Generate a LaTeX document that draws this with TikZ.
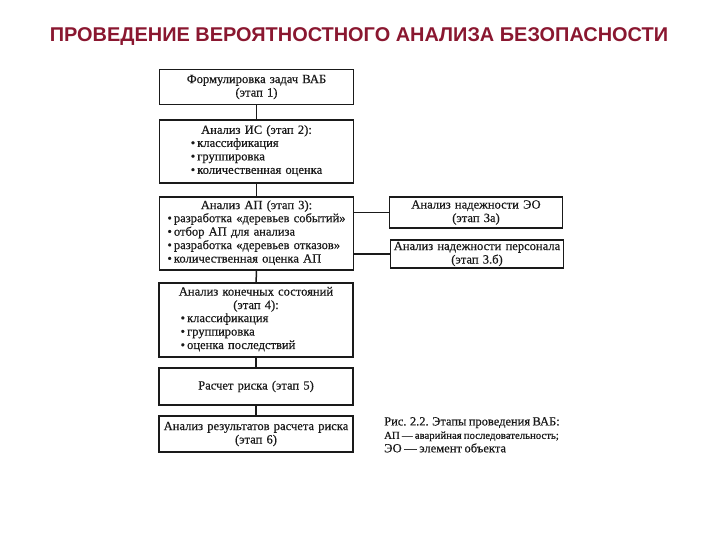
\documentclass[tikz,border=0pt]{standalone}
\usepackage{fontspec}
\setmainfont[FakeBold=0.6,WordSpace=0.8]{Liberation Serif}
\newfontfamily\headfont{Liberation Sans}
\usepackage{xcolor}
\definecolor{cHead}{HTML}{8A1730}
\definecolor{ink}{HTML}{1A1A1A}
\usetikzlibrary{positioning}

\begin{document}
\begin{tikzpicture}[x=1bp,y=-1bp,
  font=\fontsize{12.6}{13.5}\selectfont,
  every node/.style={align=center,text=ink},
  N/.style={draw=ink,line width=1.5bp,text width=192bp,inner sep=1bp},
  side/.style={N,text width=171bp},
  e/.style={draw=ink,line width=1.5bp},
  figcap/.style={align=left,anchor=north west,inner sep=0pt}]

\useasboundingbox (0,0) rectangle (720,540);

% --- title ---
\node[font=\headfont\bfseries\fontsize{20}{22}\selectfont,text=cHead] (ttl) at (359,37)
  {ПРОВЕДЕНИЕ ВЕРОЯТНОСТНОГО АНАЛИЗА БЕЗОПАСНОСТИ};

% --- main column ---
\node[N,minimum height=35bp] (b1) at (256.5,87)
  {Формулировка задач ВАБ\\(этап 1)};
\node[N,minimum height=63bp] (b2) at (256.5,151.5)
  {Анализ ИС (этап 2):\\
   \begin{tabular}{@{}l@{}}•\,классификация\\•\,группировка\\•\,количественная оценка\end{tabular}};
\node[N,minimum height=73bp] (b3) at (256.5,233.5)
  {Анализ АП (этап 3):\\
   \begin{tabular}{@{}l@{}}•\,разработка «деревьев событий»\\•\,отбор АП для анализа\\
   •\,разработка «деревьев отказов»\\•\,количественная оценка АП\end{tabular}};
\node[N,minimum height=74bp] (b4) at (256,320)
  {Анализ конечных состояний\\(этап 4):\\
   \begin{tabular}{@{}l@{}}•\,классификация\\•\,группировка\\•\,оценка последствий\end{tabular}\hspace*{36bp}};
\node[N,minimum height=37bp] (b5) at (256,386.5) {Расчет риска (этап 5)};
\node[N,minimum height=36bp] (b6) at (256,434)
  {Анализ результатов расчета риска\\(этап 6)};

% --- side boxes ---
\node[side,minimum height=31bp] (b3a) at (476,212.5)
  {Анализ надежности ЭО\\(этап 3а)};
\node[side,minimum height=28bp] (b3b) at (477,254)
  {Анализ надежности персонала\\(этап 3.б)};

% --- caption ---
\node[figcap] (cpt) at (384,417)
  {\fontsize{12.5}{12}\selectfont Рис. 2.2. Этапы проведения ВАБ:\\
   \fontsize{10.8}{12}\selectfont АП — аварийная последовательность;\\
   ЭО — элемент объекта};

% edges
\draw[e] (b1) -- (b2);
\draw[e] (b2) -- (b3);
\draw[e] (b3) -- (b4);
\draw[e] (b4) -- (b5);
\draw[e] (b5) -- (b6);
\draw[e] (b3a.west -| b3.east) -- (b3a.west);
\draw[e] (b3b.west -| b3.east) -- (b3b.west);
\end{tikzpicture}
\end{document}
